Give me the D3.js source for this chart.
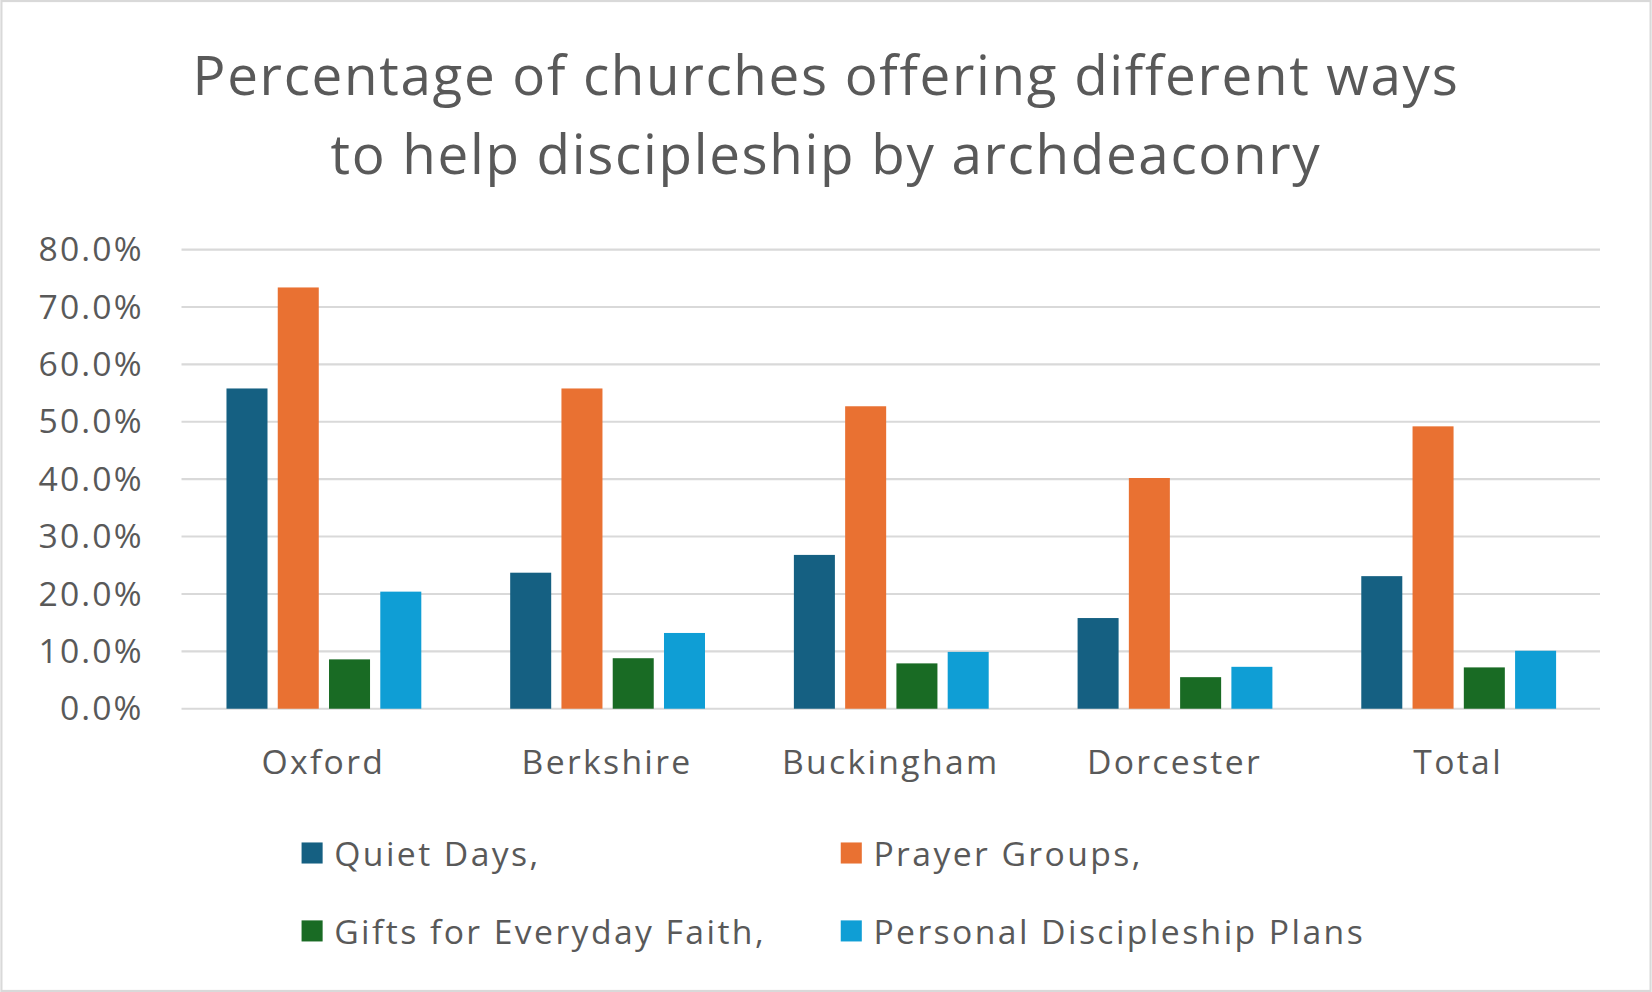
<!DOCTYPE html>
<html><head><meta charset="utf-8">
<script src="https://cdn.jsdelivr.net/npm/d3@7"></script>
<style>body{margin:0;background:#fff}svg{display:block}</style>
</head><body>
<svg id="chart" width="1652" height="992" viewBox="0 0 1568 942"></svg>
<script>
var categories = ["Oxford", "Berkshire", "Buckingham", "Dorcester", "Total"];
var seriesNames = ["Quiet Days,", "Prayer Groups,", "Gifts for Everyday Faith,", "Personal Discipleship Plans"];
var quietDays = [55.8, 23.7, 26.8, 15.8, 23.1];
var prayerGroups = [73.4, 55.8, 52.7, 40.2, 49.2];
var giftsFaith = [8.6, 8.8, 7.9, 5.5, 7.2];
var personalPlans = [20.4, 13.2, 9.9, 7.3, 10.1];
var yTicks = [0, 10, 20, 30, 40, 50, 60, 70, 80];
var colors = ["#156082", "#E97132", "#196B24", "#0F9ED5"];
var series = [quietDays, prayerGroups, giftsFaith, personalPlans];

var svg = d3.select("#chart");
var font = "'Open Sans', 'Noto Sans', sans-serif";
svg.append("rect").attr("x", 1).attr("y", 1).attr("width", 1566).attr("height", 940)
  .attr("fill", "#fff").attr("stroke", "#d9d9d9").attr("stroke-width", 2);

[["Percentage of churches offering different ways", 90], ["to help discipleship by archdeaconry", 165]].forEach(function(t){
  svg.append("text").attr("x", 784).attr("y", t[1]).attr("text-anchor", "middle")
    .attr("font-family", font).attr("font-size", 52).attr("letter-spacing", 1.6).attr("fill", "#595959")
    .text(t[0]);
});

var x = d3.scaleBand().domain(categories).range([172, 1519]);
var y = d3.scaleLinear().domain([0, 80]).range([673, 237]);
var inner = d3.scaleBand().domain(d3.range(4)).range([-92, 93]).paddingInner(0.2);

svg.append("g").selectAll("line").data(yTicks).enter().append("line")
  .attr("x1", 172).attr("x2", 1519).attr("y1", y).attr("y2", y)
  .attr("stroke", "#d9d9d9").attr("stroke-width", 2);

svg.append("g").selectAll("text").data(yTicks).enter().append("text")
  .attr("x", 136).attr("y", function(d){ return y(d) + 11; }).attr("text-anchor", "end")
  .attr("font-family", font).attr("font-size", 32).attr("letter-spacing", 2).attr("fill", "#595959")
  .text(function(d){ return d.toFixed(1) + "%"; });

series.forEach(function(vals, i){
  svg.append("g").selectAll("rect").data(vals).enter().append("rect")
    .attr("x", function(d, j){ return x(categories[j]) + x.bandwidth()/2 + inner(i); })
    .attr("width", inner.bandwidth())
    .attr("y", function(d){ return y(d); })
    .attr("height", function(d){ return y(0) - y(d); })
    .attr("fill", colors[i]);
});

svg.append("g").selectAll("text").data(categories).enter().append("text")
  .attr("x", function(d){ return x(d) + x.bandwidth()/2; }).attr("y", 735)
  .attr("text-anchor", "middle").attr("font-family", font).attr("font-size", 32).attr("letter-spacing", 2.2)
  .attr("fill", "#595959").text(function(d){ return d; });

var legPos = [[286, 810], [798, 810], [286, 884], [798, 884]];
seriesNames.forEach(function(n, i){
  var g = svg.append("g").attr("transform", "translate(" + legPos[i][0] + "," + legPos[i][1] + ")");
  g.append("rect").attr("x", 0).attr("y", -10).attr("width", 20).attr("height", 20).attr("fill", colors[i]);
  g.append("text").attr("x", 31).attr("y", 12).attr("font-family", font).attr("font-size", 32)
    .attr("letter-spacing", 2.3).attr("fill", "#595959").text(n);
});
</script>
</body></html>
